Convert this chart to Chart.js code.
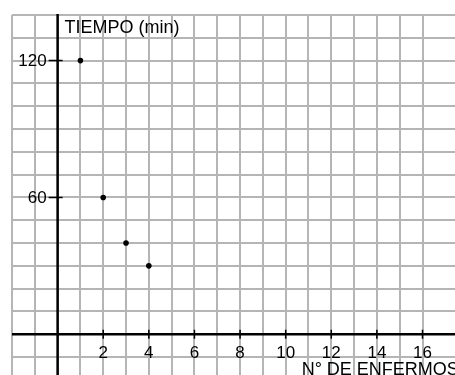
<!DOCTYPE html>
<html>
<head>
<meta charset="utf-8">
<style>
html,body{margin:0;padding:0;background:#fff;overflow:hidden;width:455px;height:375px;}
canvas{display:block;}
</style>
<script src="https://cdn.jsdelivr.net/npm/chart.js@4/dist/chart.umd.min.js"></script>
</head>
<body>
<canvas id="c" width="470" height="390"></canvas>
<script>
const enfermos = [1, 2, 3, 4];
const tiempo = [120, 60, 40, 30];
const xTickLabels = [2, 4, 6, 8, 10, 12, 14, 16];
const yTickLabels = [60, 120];
const xAxisTitle = "N° DE ENFERMOS";
const yAxisTitle = "TIEMPO (min)";

const FONT = "'Liberation Sans', Arial, sans-serif";

const axesPlugin = {
  id: 'axesPlugin',
  beforeDatasetsDraw(chart) {
    const ctx = chart.ctx;
    const xs = chart.scales.x, ys = chart.scales.y;
    const area = chart.chartArea;
    const x0 = xs.getPixelForValue(0);
    const y0 = ys.getPixelForValue(0);
    ctx.save();
    ctx.strokeStyle = '#000';
    ctx.lineWidth = 2.5;
    ctx.beginPath();
    ctx.moveTo(area.left, y0);
    ctx.lineTo(chart.width, y0);
    ctx.moveTo(x0, area.top - 1);
    ctx.lineTo(x0, chart.height);
    ctx.stroke();
    // ticks
    ctx.lineWidth = 1.5;
    ctx.beginPath();
    xTickLabels.forEach(v => {
      const px = xs.getPixelForValue(v);
      ctx.moveTo(px, y0 - 4.5);
      ctx.lineTo(px, y0 + 4.5);
    });
    yTickLabels.forEach(v => {
      const py = ys.getPixelForValue(v);
      ctx.moveTo(x0 - 9, py);
      ctx.lineTo(x0 + 5, py);
    });
    ctx.stroke();
    // labels
    ctx.fillStyle = '#000';
    ctx.font = '17px ' + FONT;
    ctx.textAlign = 'center';
    ctx.textBaseline = 'alphabetic';
    xTickLabels.forEach(v => {
      ctx.fillText(String(v), xs.getPixelForValue(v), y0 + 24);
    });
    ctx.textAlign = 'right';
    ctx.textBaseline = 'middle';
    yTickLabels.forEach(v => {
      ctx.fillText(String(v), x0 - 11, ys.getPixelForValue(v) + 1);
    });
    ctx.font = '18px ' + FONT;
    ctx.textAlign = 'left';
    ctx.textBaseline = 'alphabetic';
    ctx.fillText(yAxisTitle, x0 + 7, area.top + 18);
    ctx.fillText(xAxisTitle, xs.getPixelForValue(10.7), y0 + 41);
    ctx.restore();
  }
};

new Chart(document.getElementById('c'), {
  type: 'scatter',
  data: {
    datasets: [{
      data: enfermos.map((x, i) => ({x: x, y: tiempo[i]})),
      backgroundColor: '#000',
      borderColor: '#000',
      pointRadius: 2.8,
      pointHoverRadius: 2.8,
      borderWidth: 0
    }]
  },
  options: {
    responsive: false,
    animation: false,
    events: [],
    layout: { padding: { left: 12, top: 15, right: 0, bottom: 0 } },
    plugins: { legend: { display: false }, tooltip: { enabled: false } },
    scales: {
      x: {
        type: 'linear',
        min: -2, max: 17.96,
        ticks: { display: false, stepSize: 1 },
        border: { display: false },
        grid: {
          drawTicks: false,
          lineWidth: 2,
          color: c => (Math.abs(c.tick.value - Math.round(c.tick.value)) < 1e-6) ? '#b5b5b5' : 'rgba(0,0,0,0)'
        }
      },
      y: {
        type: 'linear',
        min: -23.2, max: 140,
        ticks: { display: false, stepSize: 10 },
        border: { display: false },
        grid: {
          drawTicks: false,
          lineWidth: 2,
          color: c => (Math.abs(c.tick.value / 10 - Math.round(c.tick.value / 10)) < 1e-6) ? '#b5b5b5' : 'rgba(0,0,0,0)'
        }
      }
    }
  },
  plugins: [axesPlugin]
});
</script>
</body>
</html>
